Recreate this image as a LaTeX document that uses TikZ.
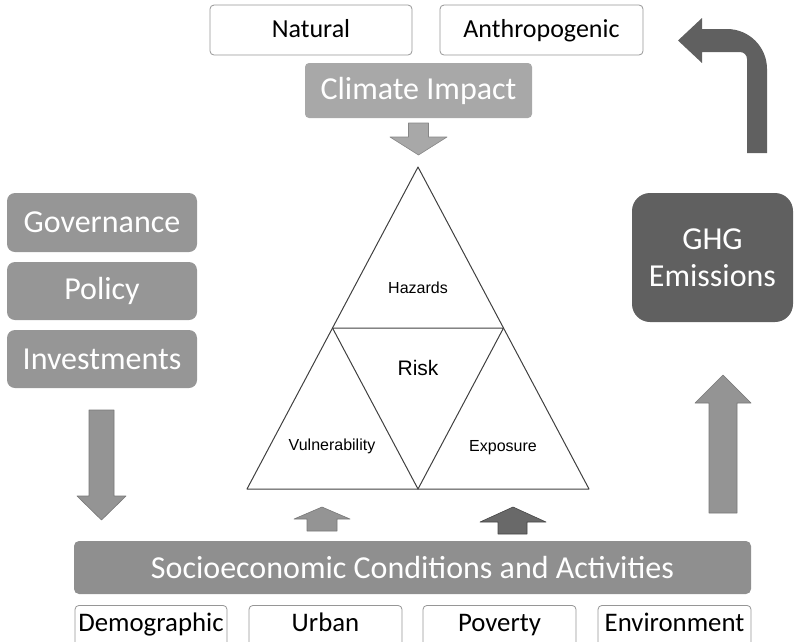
\documentclass[tikz,border=0pt]{standalone}
\usepackage{fontspec}
\setmainfont{Carlito}
\newfontfamily\arialfont{Liberation Sans}

\definecolor{boxline}{RGB}{150,150,150}
\definecolor{climgray}{RGB}{168,168,168}
\definecolor{govgray}{RGB}{150,150,150}
\definecolor{sociogray}{RGB}{143,143,143}
\definecolor{ghggray}{RGB}{96,96,96}
\definecolor{arrowgray}{RGB}{148,148,148}
\definecolor{arrowline}{RGB}{120,120,120}
\definecolor{darkarrow}{RGB}{105,105,105}
\definecolor{darkline}{RGB}{70,70,70}

\begin{document}
\begin{tikzpicture}[
	x=1pt, y=-1pt,
	every node/.style={font=\fontsize{26}{31}\selectfont},
	whitebox/.style={draw=boxline, fill=white, line width=0.8pt,
		rounded corners=4pt, inner sep=0pt},
	topbox/.style={whitebox, minimum height=50pt, text height=19pt, text depth=5pt},
	subbox/.style={whitebox, anchor=north, inner ysep=4pt,
		text height=22pt, text depth=40pt, font=\fontsize{26.8}{32}\selectfont},
	graybox/.style={fill=govgray, text=white, rounded corners=8pt,
		inner sep=0pt, font=\fontsize{32}{37}\selectfont},
	trilabel/.style={font=\arialfont\fontsize{16}{19}\selectfont},
	blockarrow/.style={fill=arrowgray, draw=arrowline, line width=0.6pt},
	line join=round
	]
	
	\clip (0,0) rectangle (794,641);
	
	% sources of climate impact
	\node[topbox, minimum width=202pt] (natural) at (311,30) {Natural};
	\node[topbox, minimum width=203pt] (anthro) at (541.5,30) {Anthropogenic};
	\node[graybox, fill=climgray, rounded corners=4pt, minimum width=227pt, minimum height=55pt]
		(climate) at (418.5,90.5) {Climate Impact};
	
	% left column
	\node[graybox, minimum width=190pt, minimum height=59pt] (gov) at (102,222.5) {Governance};
	\node[graybox, minimum width=190pt, minimum height=58pt] (policy) at (102,291) {Policy};
	\node[graybox, minimum width=190pt, minimum height=58pt] (invest) at (102,359) {Investments};
	
	% emissions
	\node[graybox, fill=ghggray, rounded corners=18pt, align=center,
		minimum width=161pt, minimum height=129pt] (ghg) at (712.5,257.5) {GHG\\Emissions};
	
	% socioeconomic bar and its parts
	\node[graybox, fill=sociogray, rounded corners=5pt, minimum width=677pt, minimum height=53pt]
		(socio) at (412.5,567.5) {Socioeconomic Conditions and Activities};
	\node[subbox, minimum width=152pt] (demo) at (151,605) {Demographic};
	\node[subbox, minimum width=153pt] (urban) at (325.5,605) {Urban};
	\node[subbox, minimum width=153pt] (poverty) at (499.5,605) {Poverty};
	\node[subbox, minimum width=153pt] (environ) at (674.5,605) {Environment};
	
	% risk triangle
	\coordinate (top) at (418,167);
	\coordinate (bl) at (247,489);
	\coordinate (br) at (589,489);
	\coordinate (ml) at (332.5,328);
	\coordinate (mr) at (503.5,328);
	\coordinate (bm) at (418,489);
	\draw[line width=1pt, draw=black!75] (top) -- (br) -- (bl) -- cycle;
	\draw[line width=1pt, draw=black!75] (ml) -- (mr) -- (bm) -- cycle;
	
	\node[trilabel] (hazards) at (418,288) {Hazards};
	\node[trilabel, font=\arialfont\fontsize{21}{25}\selectfont] (risk) at (418,368) {Risk};
	\node[trilabel] (vuln) at (332,446) {Vulnerability};
	\node[trilabel] (expo) at (503,448) {Exposure};
	
	% block arrows
	\filldraw[blockarrow, fill=climgray, draw=climgray!80!black]
		(408.5,123) -- (428.5,123) -- (428.5,137) -- (447,137)
		-- (418.5,155) -- (390,137) -- (408.5,137) -- cycle;
	\filldraw[blockarrow]
		(89,410) -- (114,410) -- (114,496) -- (126,496)
		-- (101.5,520) -- (77,496) -- (89,496) -- cycle;
	\filldraw[blockarrow]
		(709,513) -- (737,513) -- (737,403) -- (751,403)
		-- (723,375) -- (695,403) -- (709,403) -- cycle;
	\filldraw[blockarrow]
		(307,531) -- (337,531) -- (337,519) -- (350,519)
		-- (322,507) -- (294,519) -- (307,519) -- cycle;
	\filldraw[blockarrow, fill=darkarrow, draw=darkline]
		(498,534) -- (527,534) -- (527,522) -- (546,522)
		-- (513,507) -- (480,522) -- (498,522) -- cycle;
	
	% bent arrow back to the top
	\fill[ghggray]
		(747,153) -- (767,153) -- (767,69) arc (0:90:40pt)
		-- (702,29) -- (702,18) -- (678,40.5) -- (702,63) -- (702,52)
		-- (740,52) arc (90:0:7pt) -- cycle;
	
\end{tikzpicture}
\end{document}
